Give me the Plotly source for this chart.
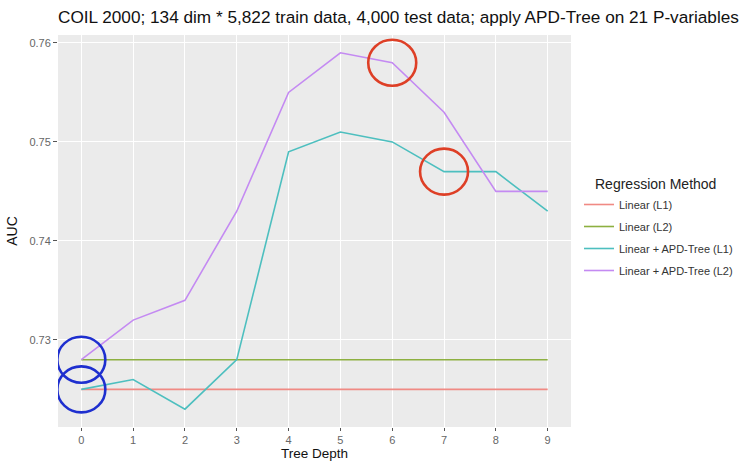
import plotly.graph_objects as go

depth = [0, 1, 2, 3, 4, 5, 6, 7, 8, 9]
linear_l1 = [0.725] * 10
linear_l2 = [0.728] * 10
apd_l1 = [0.725, 0.726, 0.723, 0.728, 0.749, 0.751, 0.750, 0.747, 0.747, 0.743]
apd_l2 = [0.728, 0.732, 0.734, 0.743, 0.755, 0.759, 0.758, 0.753, 0.745, 0.745]

series_names = ["Linear (L1)", "Linear (L2)", "Linear + APD-Tree (L1)", "Linear + APD-Tree (L2)"]
series_colors = ["#F08A84", "#8DB040", "#4DBFBF", "#C48AF2"]

y_ticks = [0.73, 0.74, 0.75, 0.76]
y_tick_labels = ["0.73", "0.74", "0.75", "0.76"]

blue_circle_x = [0, 0]
blue_circle_y = [0.728, 0.725]
red_circle_x = [6, 7]
red_circle_y = [0.758, 0.747]

fig = go.Figure()
for i, (name, vals, col) in enumerate(zip(series_names, [linear_l1, linear_l2, apd_l1, apd_l2], series_colors)):
    fig.add_trace(go.Scatter(x=depth, y=vals, mode="lines", name=name, legendgroup=f"g{i}",
                             line=dict(color=col, width=1.6)))

shapes = []
for cx, cy in zip(blue_circle_x, blue_circle_y):
    shapes.append(dict(type="circle", xref="x", yref="y", xsizemode="pixel", ysizemode="pixel",
                       xanchor=cx, yanchor=cy, x0=-24, x1=24, y0=-23, y1=23,
                       line=dict(color="#1E2FCF", width=2.6)))
for cx, cy in zip(red_circle_x, red_circle_y):
    shapes.append(dict(type="circle", xref="x", yref="y", xsizemode="pixel", ysizemode="pixel",
                       xanchor=cx, yanchor=cy, x0=-24, x1=24, y0=-23, y1=23,
                       line=dict(color="#DE3F26", width=2.6)))

PT, PB, PL, PR = 35, 427, 58, 571
PH, PW = PB - PT, PR - PL

fig.update_layout(
    width=739, height=461,
    margin=dict(l=PL, r=739 - PR, t=PT, b=461 - PB, autoexpand=False),
    paper_bgcolor="white",
    plot_bgcolor="#EBEBEB",
    font=dict(family="Liberation Sans, Arial, sans-serif", color="#333333"),
    title=dict(text="COIL 2000; 134 dim * 5,822 train data, 4,000 test data; apply APD-Tree on 21 P-variables",
               x=0, xref="paper", xanchor="left", y=1 - 17 / 461, yref="container", yanchor="middle",
               font=dict(size=17.2, color="#111111")),
    xaxis=dict(range=[-0.45, 9.45], tickmode="array", tickvals=depth, ticktext=[str(d) for d in depth],
               showgrid=True, gridcolor="white", gridwidth=1.2, zeroline=False,
               ticks="outside", ticklen=3, tickcolor="#555555", tickwidth=1.2,
               ticklabelstandoff=0,
               tickfont=dict(size=11, color="#666666")),
    yaxis=dict(range=[0.7212, 0.7608], tickmode="array", tickvals=y_ticks, ticktext=y_tick_labels,
               showgrid=True, gridcolor="white", gridwidth=1.2, zeroline=False,
               ticks="outside", ticklen=4, tickcolor="#555555", tickwidth=1.2,
               tickfont=dict(size=11, color="#666666"),
               title=dict(text="AUC", font=dict(size=14, color="#111111"), standoff=8)),
    legend=dict(x=(579 - PL) / PW, y=1 - (190 - PT) / PH, xanchor="left", yanchor="top",
                font=dict(size=11, color="#333333"), bgcolor="rgba(0,0,0,0)",
                tracegroupgap=3),
    annotations=[
        dict(text="Tree Depth", xref="paper", yref="paper",
             x=0.5, y=-(462 - PB) / PH, xanchor="center", yanchor="bottom",
             showarrow=False, borderpad=0, font=dict(size=13.5, color="#111111")),
        dict(text="Regression Method", xref="paper", yref="paper",
             x=(593 - PL) / PW, y=1 - (184 - PT) / PH, xanchor="left", yanchor="middle",
             showarrow=False, font=dict(size=14, color="#222222")),
    ],
    shapes=shapes,
    showlegend=True,
)

fig.write_html("out.html")
